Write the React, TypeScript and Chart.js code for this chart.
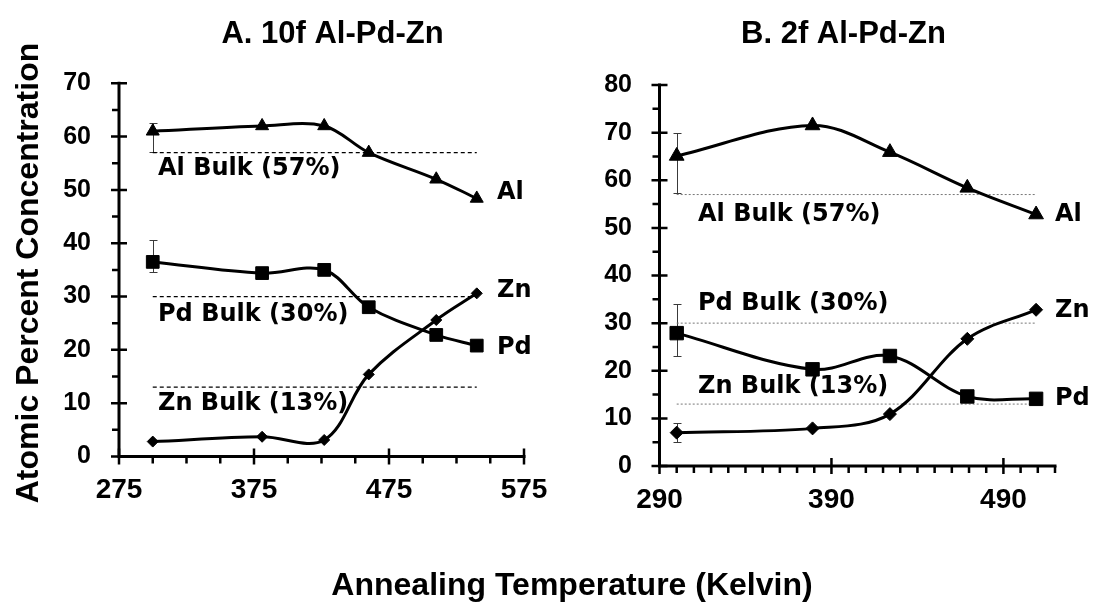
import React, { useEffect, useRef } from 'react';
import { Chart, registerables } from 'chart.js';

Chart.register(...registerables);

// ---- Panel A: 10f Al-Pd-Zn ----
const tempsA = [300, 381, 427, 460, 510, 540];
const alA = [61, 62, 62, 57, 52, 48.4];
const pdA = [36.5, 34.4, 35, 28, 22.8, 20.8];
const znA = [2.8, 3.7, 3.1, 15.4, 25.6, 30.6];
// error bar limits at the first point: [upper, lower]
const alErrA = [62.6, 57.2];
const pdErrA = [40.6, 34.6];
const xLabelsA = [275, 375, 475, 575];
const yMaxA = 70;

// ---- Panel B: 2f Al-Pd-Zn ----
const tempsB = [300, 379, 424, 469, 509];
const alB = [65.1, 71.5, 65.9, 58.4, 52.8];
const pdB = [27.9, 20.3, 23.1, 14.6, 14.1];
const znB = [7.0, 7.9, 10.9, 26.7, 32.8];
const alErrB = [70, 57.4];
const pdErrB = [34, 23.1];
const znErrB = [9, 5.1];
const xLabelsB = [290, 390, 490];
const yMaxB = 80;

// bulk composition (atomic %)
const bulkAl = 57;
const bulkPd = 30;
const bulkZn = 13;
const bulkText = ['Al Bulk (57%)', 'Pd Bulk (30%)', 'Zn Bulk (13%)'];
const seriesNames = ['Al', 'Pd', 'Zn'];

const titleA = 'A. 10f Al-Pd-Zn';
const titleB = 'B. 2f Al-Pd-Zn';
const yTitle = 'Atomic Percent Concentration';
const xTitle = 'Annealing Temperature (Kelvin)';

const ARIAL = "'Liberation Sans', Arial, sans-serif";
const DEJAVU = "'DejaVu Sans', sans-serif";

const pts = (xs: number[], ys: number[]) => xs.map((x, i) => ({ x, y: ys[i] }));

const decorPlugin = {
  id: 'panelDecor',
  beforeDatasetsDraw(chart: any, _args: any, opts: any) {
    const { ctx, chartArea, scales } = chart;
    const x = scales.x;
    const y = scales.y;
    ctx.save();
    // axis lines
    ctx.strokeStyle = '#000';
    ctx.lineWidth = 3;
    ctx.lineCap = 'square';
    ctx.beginPath();
    ctx.moveTo(chartArea.left, chartArea.top);
    ctx.lineTo(chartArea.left, chartArea.bottom);
    ctx.lineTo(chartArea.right, chartArea.bottom);
    ctx.stroke();
    // tick marks: major ticks cross the axis, minor ticks sit outside
    ctx.lineCap = 'butt';
    ctx.lineWidth = 2.5;
    ctx.beginPath();
    for (const t of y.ticks) {
      const py = y.getPixelForValue(t.value);
      if (t.value % 10 === 0) {
        ctx.moveTo(chartArea.left - 8, py);
        ctx.lineTo(chartArea.left + 8, py);
      } else {
        ctx.moveTo(chartArea.left - 7, py);
        ctx.lineTo(chartArea.left, py);
      }
    }
    for (const t of x.ticks) {
      const px = x.getPixelForValue(t.value);
      if (opts.xMajor.includes(t.value)) {
        ctx.moveTo(px, chartArea.bottom - 8);
        ctx.lineTo(px, chartArea.bottom + 8);
      } else {
        ctx.moveTo(px, chartArea.bottom);
        ctx.lineTo(px, chartArea.bottom + 7);
      }
    }
    ctx.stroke();
    // error bars
    ctx.strokeStyle = '#3a3a3a';
    ctx.lineWidth = 1;
    ctx.beginPath();
    for (const e of opts.errors) {
      const px = Math.round(x.getPixelForValue(e.x)) + 0.5;
      const top = Math.round(y.getPixelForValue(e.hi)) + 0.5;
      const bot = Math.round(y.getPixelForValue(e.lo)) + 0.5;
      ctx.moveTo(px, top);
      ctx.lineTo(px, bot);
      ctx.moveTo(px - 4, top);
      ctx.lineTo(px + 4, top);
      ctx.moveTo(px - 4, bot);
      ctx.lineTo(px + 4, bot);
    }
    ctx.stroke();
    ctx.restore();
  },
  afterDraw(chart: any, _args: any, opts: any) {
    const { ctx, scales } = chart;
    const x = scales.x;
    const y = scales.y;
    ctx.save();
    ctx.fillStyle = '#000';
    // in-plot labels
    ctx.font = `bold 24px ${DEJAVU}`;
    ctx.textAlign = 'left';
    ctx.textBaseline = 'middle';
    for (const l of opts.labels) {
      ctx.fillText(l.text, x.getPixelForValue(l.x), y.getPixelForValue(l.y));
    }
    // panel title
    ctx.font = `bold 31px ${ARIAL}`;
    ctx.textAlign = 'center';
    ctx.textBaseline = 'alphabetic';
    ctx.fillText(opts.title, opts.titleX, 42.5);
    // shared axis titles
    if (opts.axisTitles) {
      ctx.font = `bold 32px ${ARIAL}`;
      ctx.fillText(xTitle, 572, 595);
      ctx.translate(37.5, 273);
      ctx.rotate(-Math.PI / 2);
      ctx.fillText(yTitle, 0, 0);
    }
    ctx.restore();
  },
};

function seriesSets(xs: number[], al: number[], pd: number[], zn: number[], sizes: number[]) {
  const base = {
    showLine: true,
    borderColor: '#000',
    backgroundColor: '#000',
    borderWidth: 3,
    pointBorderWidth: 1,
    tension: 0.35,
    clip: false,
    order: 0,
  };
  return [
    { ...base, label: seriesNames[0], data: pts(xs, al), pointStyle: 'triangle', pointRadius: sizes[0] },
    { ...base, label: seriesNames[1], data: pts(xs, pd), pointStyle: 'rect', pointRadius: sizes[1] },
    { ...base, label: seriesNames[2], data: pts(xs, zn), pointStyle: 'rectRot', pointRadius: sizes[2] },
  ];
}

function bulkSets(x0: number, x1: number, color: string, dash: number[], width: number) {
  return [bulkAl, bulkPd, bulkZn].map((v, i) => ({
    label: bulkText[i],
    data: [{ x: x0, y: v }, { x: x1, y: v }],
    showLine: true,
    borderColor: color,
    borderWidth: width,
    borderDash: dash,
    pointRadius: 0,
    tension: 0,
    order: 1,
  }));
}

function makeConfig(p: any) {
  return {
    type: 'scatter',
    data: {
      datasets: [
        ...seriesSets(p.xs, p.al, p.pd, p.zn, p.sizes),
        ...bulkSets(p.xs[0], p.xs[p.xs.length - 1], p.bulkColor, p.bulkDash, p.bulkWidth),
      ],
    },
    options: {
      responsive: false,
      animation: false,
      devicePixelRatio: 1,
      layout: { padding: p.padding },
      plugins: {
        legend: { display: false },
        tooltip: { enabled: false },
        panelDecor: {
          xMajor: p.xMajor,
          errors: p.errors,
          labels: p.labels,
          title: p.title,
          titleX: p.titleX,
          axisTitles: p.axisTitles,
        },
      },
      scales: {
        x: {
          type: 'linear',
          min: p.xMin,
          max: p.xMax,
          grid: { display: false, drawTicks: false },
          border: { display: false },
          ticks: {
            stepSize: p.xStep,
            autoSkip: false,
            maxRotation: 0,
            minRotation: 0,
            padding: 17,
            color: '#000',
            font: { family: ARIAL, size: 28, weight: 'bold' },
            callback: (v: number) => (p.xMajor.includes(v) ? String(v) : ''),
          },
          afterFit: (s: any) => {
            s.height = p.xHeight;
          },
        },
        y: {
          type: 'linear',
          min: 0,
          max: p.yMax,
          grid: { display: false, drawTicks: false },
          border: { display: false },
          ticks: {
            stepSize: 5,
            autoSkip: false,
            padding: p.yPad,
            color: '#000',
            font: { family: ARIAL, size: 25, weight: 'bold' },
            callback: (v: number) => (v % 10 === 0 ? String(v) : ''),
          },
          afterFit: (s: any) => {
            s.width = 56;
          },
        },
      },
    },
    plugins: [decorPlugin],
  };
}

const panelA = {
  xs: tempsA,
  al: alA,
  pd: pdA,
  zn: znA,
  sizes: [7.5, 9, 5.5],
  bulkColor: '#000',
  bulkDash: [4, 3],
  bulkWidth: 1.2,
  padding: { left: 63, top: 83.3, right: 576, bottom: 0 },
  xMin: 275,
  xMax: 575,
  xStep: 25,
  xMajor: xLabelsA,
  xHeight: 156.5,
  yMax: yMaxA,
  yPad: 28,
  errors: [
    { x: tempsA[0], hi: alErrA[0], lo: alErrA[1] },
    { x: tempsA[0], hi: pdErrA[0], lo: pdErrA[1] },
  ],
  labels: [
    { text: bulkText[0], x: 303.9, y: 53.9 },
    { text: bulkText[1], x: 303.9, y: 26.5 },
    { text: bulkText[2], x: 303.9, y: 9.85 },
    { text: seriesNames[0], x: 555, y: 49.4 },
    { text: seriesNames[2], x: 555, y: 31.1 },
    { text: seriesNames[1], x: 555, y: 20.4 },
  ],
  title: titleA,
  titleX: 332.5,
  axisTitles: true,
};

const panelB = {
  xs: tempsB,
  al: alB,
  pd: pdB,
  zn: znB,
  sizes: [8.5, 9.5, 6.5],
  bulkColor: '#777',
  bulkDash: [2, 2],
  bulkWidth: 1,
  padding: { left: 603.5, top: 85, right: 45, bottom: 0 },
  xMin: 290,
  xMax: 520,
  xStep: 10,
  xMajor: xLabelsB,
  xHeight: 147,
  yMax: yMaxB,
  yPad: 27.5,
  errors: [
    { x: tempsB[0], hi: alErrB[0], lo: alErrB[1] },
    { x: tempsB[0], hi: pdErrB[0], lo: pdErrB[1] },
    { x: tempsB[0], hi: znErrB[0], lo: znErrB[1] },
  ],
  labels: [
    { text: bulkText[0], x: 312.4, y: 52.7 },
    { text: bulkText[1], x: 312.4, y: 34.0 },
    { text: bulkText[2], x: 312.4, y: 16.65 },
    { text: seriesNames[0], x: 520, y: 52.8 },
    { text: seriesNames[2], x: 520, y: 32.65 },
    { text: seriesNames[1], x: 520, y: 14.2 },
  ],
  title: titleB,
  titleX: 843.5,
  axisTitles: false,
};

function Panel({ panel }: { panel: any }) {
  const ref = useRef<HTMLCanvasElement | null>(null);
  useEffect(() => {
    if (!ref.current) return;
    const chart = new Chart(ref.current, makeConfig(panel) as any);
    return () => chart.destroy();
  }, [panel]);
  return (
    <canvas
      ref={ref}
      width={1100}
      height={613}
      style={{ position: 'absolute', left: 0, top: 0, width: 1100, height: 613 }}
    />
  );
}

export default function App() {
  return (
    <div
      style={{
        position: 'fixed',
        left: 0,
        top: 0,
        width: 1100,
        height: 613,
        background: '#fff',
        overflow: 'hidden',
      }}
    >
      <Panel panel={panelA} />
      <Panel panel={panelB} />
    </div>
  );
}
